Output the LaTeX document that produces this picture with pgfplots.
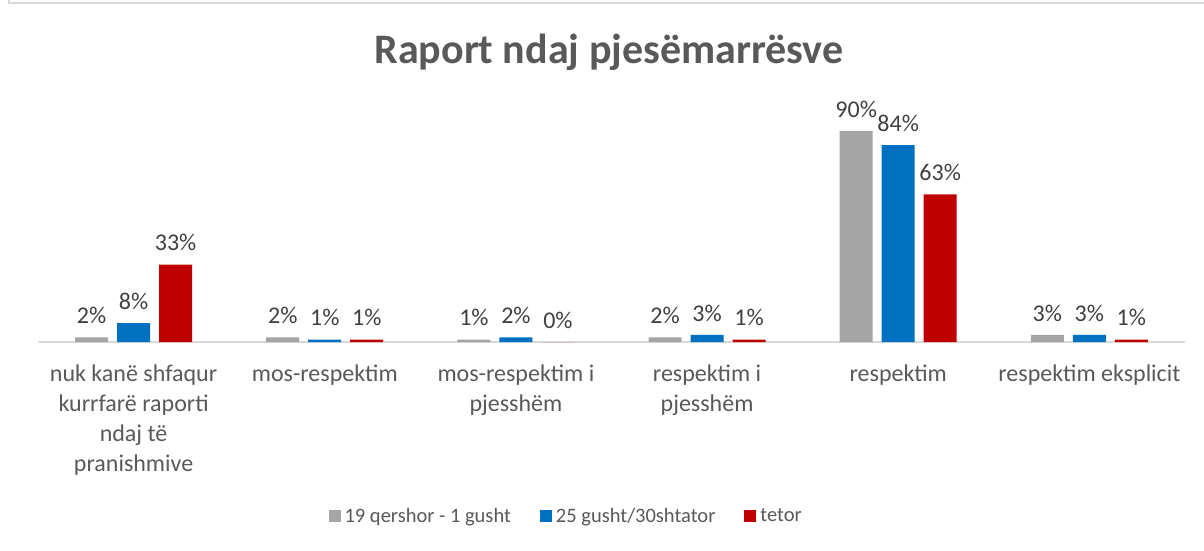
\documentclass[border=0pt]{standalone}
\usepackage{fontspec}
\setmainfont{Carlito}
\usepackage{pgfplots}
\pgfplotsset{compat=1.18}
\definecolor{cgray}{HTML}{A5A5A5}
\definecolor{cblue}{HTML}{0070C0}
\definecolor{cred}{HTML}{C00000}
\definecolor{ctext}{HTML}{595959}
\definecolor{clab}{HTML}{404040}
\definecolor{cline}{HTML}{D9D9D9}
\begin{document}
\begin{tikzpicture}[x=1pt,y=1pt]
\useasboundingbox (0,0) rectangle (1204,550);
\draw[cline, line width=2pt] (9,551) -- (9,547) -- (1205,547);
\node[font=\fontsize{42}{50}\selectfont\bfseries, text=ctext] at (609,498) {Raport ndaj pjesëmarrësve};
\begin{axis}[
  at={(38pt,208pt)}, anchor=south west,
  scale only axis, width=1147pt, height=234.5pt,
  ybar=9pt, bar width=33pt,
  xmin=-0.5, xmax=5.5, ymin=0, ymax=100,
  axis y line=none, axis x line*=bottom,
  x axis line style={-, draw=cline, line width=1.5pt},
  xtick={0,1,2,3,4,5}, xtick style={draw=none},
  xticklabels={{nuk kanë shfaqur\\kurrfarë raporti\\ndaj të\\pranishmive}, mos-respektim, {mos-respektim i\\pjesshëm}, {respektim i\\pjesshëm}, respektim, respektim eksplicit},
  xticklabel style={align=center, font=\fontsize{24}{30}\selectfont, text=ctext, yshift=-15pt},
  nodes near coords={\pgfmathprintnumber[fixed,precision=0,assume math mode=true]{\pgfplotspointmeta}\%},
  every node near coord/.append style={font=\fontsize{24}{28}\selectfont, text=clab, yshift=10pt},
  legend columns=-1,
  legend style={draw=none, at={(0.4605,-0.742)}, anchor=center, font=\fontsize{20.5}{24}\selectfont, text=ctext,
    /tikz/every even column/.append style={column sep=27pt}, inner sep=0pt,
    /tikz/every odd column/.append style={column sep=2pt}},
  legend image code/.code={\fill[#1] (0pt,-6pt) rectangle (12pt,6pt);},
]
\addplot[fill=cgray, draw=none] coordinates {(0,2) (1,2) (2,1) (3,2) (4,90) (5,3)};
\addplot[fill=cblue, draw=none] coordinates {(0,8) (1,1) (2,2) (3,3) (4,84) (5,3)};
\addplot[fill=cred, draw=none] coordinates {(0,33) (1,1) (2,0) (3,1) (4,63) (5,1)};
\legend{19 qershor - 1 gusht, 25 gusht/30shtator, tetor}
\end{axis}
\end{tikzpicture}
\end{document}
